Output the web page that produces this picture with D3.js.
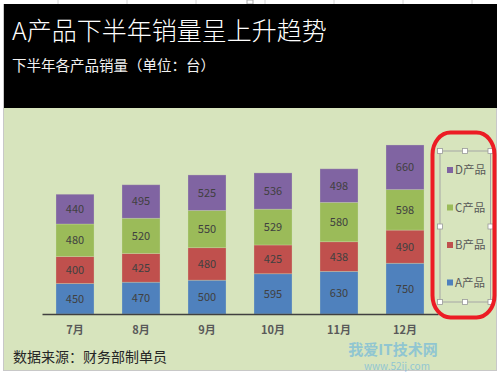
<!DOCTYPE html>
<html>
<head>
<meta charset="utf-8">
<script src="https://d3js.org/d3.v7.min.js"></script>
<style>
  body { margin: 0; background: #fff; }
  text { font-family: "Noto Sans CJK SC", "Noto Sans", sans-serif; }
  .title { font-size: 25px; fill: #fff; font-weight: 300; }
  .subtitle { font-size: 14.5px; fill: #f2f2f2; }
  .inside { font-size: 11px; fill: #404040; }
  .tick text { font-size: 11px; font-weight: bold; fill: #595959; }
  .label { font-size: 11.5px; fill: #595959; }
  .source { font-size: 14px; fill: #262626; }
</style>
</head>
<body>
<script>
  let width = 500, height = 372;
  // chart data
  let months = ['7月', '8月', '9月', '10月', '11月', '12月'];
  let products = ['A产品', 'B产品', 'C产品', 'D产品'];
  let productA = [450, 470, 500, 595, 630, 750];
  let productB = [400, 425, 480, 425, 438, 490];
  let productC = [480, 520, 550, 529, 580, 598];
  let productD = [440, 495, 525, 536, 498, 660];
  let colors = d3.scaleOrdinal().domain(products).range(['#4f81bd', '#c0504d', '#9bbb59', '#8064a2']);

  let rows = months.map((m, i) => ({month: m, 'A产品': productA[i], 'B产品': productB[i], 'C产品': productC[i], 'D产品': productD[i]}));
  let stacked = d3.stack().keys(products)(rows);

  let svg = d3.select('body').append('svg').attr('width', width).attr('height', height);

  // spreadsheet grid peeking out on top
  svg.append('g').selectAll('line').data([58, 127, 196, 265, 334, 403, 472]).enter().append('line')
     .attr('x1', d => d).attr('x2', d => d).attr('y1', 0).attr('y2', 4)
     .attr('stroke', '#d4d4d4');
  svg.append('rect').attr('x', 247).attr('y', 0).attr('width', 6).attr('height', 4)
     .attr('fill', '#fff').attr('stroke', '#aaa');

  // chart area + black header
  svg.append('rect').attr('x', 3.5).attr('y', 4.5).attr('width', 493).attr('height', 366)
     .attr('fill', '#d7e4bd').attr('stroke', '#c8c8c8');
  svg.append('rect').attr('x', 4).attr('y', 4).attr('width', 493).attr('height', 104).attr('fill', '#000');
  svg.append('text').classed('title', true).attr('x', 12).attr('y', 40).text('A产品下半年销量呈上升趋势');
  svg.append('text').classed('subtitle', true).attr('x', 12).attr('y', 71).text('下半年各产品销量（单位：台）');

  let x = d3.scaleBand().domain(months).range([42, 438]).paddingInner(0.424).paddingOuter(0.212);
  let y = d3.scaleLinear().domain([0, 3000]).range([314, 111]);

  let layers = svg.append('g').selectAll('g').data(stacked).enter().append('g')
                  .attr('fill', d => colors(d.key));
  layers.selectAll('rect').data(d => d).enter().append('rect')
        .attr('x', d => x(d.data.month))
        .attr('y', d => y(d[1]))
        .attr('width', x.bandwidth())
        .attr('height', d => y(d[0]) - y(d[1]))
        .attr('stroke', '#d7e4bd').attr('stroke-opacity', 0.35).attr('stroke-width', 0.8);
  layers.selectAll('text').data(d => d).enter().append('text').classed('inside', true)
        .attr('x', d => x(d.data.month) + x.bandwidth() / 2)
        .attr('y', d => (y(d[0]) + y(d[1])) / 2)
        .attr('text-anchor', 'middle').attr('dy', '0.36em')
        .text(d => d[1] - d[0]);

  let xAxis = svg.append('g').attr('transform', 'translate(0,314)')
                 .call(d3.axisBottom(x).tickSize(0).tickPadding(12));
  xAxis.select('.domain').attr('stroke', '#404040').attr('stroke-width', 1.3);

  svg.append('text').classed('source', true).attr('x', 13).attr('y', 362).text('数据来源：财务部制单员');

  // legend with selection frame
  let legendBox = svg.append('g');
  legendBox.append('rect').attr('x', 440).attr('y', 151).attr('width', 50.5).attr('height', 151)
           .attr('fill', 'none').attr('stroke', '#a6a6a6');
  let handles = [[440, 151], [465, 151], [490.5, 151], [440, 226.5], [490.5, 226.5], [440, 302], [465, 302], [490.5, 302]];
  legendBox.selectAll('.handle').data(handles).enter().append('rect').classed('handle', true)
           .attr('x', d => d[0] - 2.5).attr('y', d => d[1] - 2.5).attr('width', 5).attr('height', 5)
           .attr('fill', '#fff').attr('stroke', '#9a9a9a').attr('stroke-width', 0.8);
  let legend = legendBox.selectAll('.legends').data(products.slice().reverse()).enter().append('g')
                        .classed('legends', true)
                        .attr('transform', (d, i) => 'translate(447,' + (170 + i * 37.5) + ')');
  legend.append('rect').attr('y', -3).attr('width', 6).attr('height', 6).attr('fill', d => colors(d));
  legend.append('text').classed('label', true).attr('x', 8).attr('dy', '0.36em').text(d => d);

  // red marker round the legend
  svg.append('rect').attr('x', 432.5).attr('y', 132.5).attr('width', 62).attr('height', 185)
     .attr('rx', 18).attr('ry', 22).attr('fill', 'none').attr('stroke', '#ec1c24').attr('stroke-width', 4);

  // site watermark
  svg.append('text').attr('x', 393).attr('y', 355).attr('text-anchor', 'middle')
     .style('font-size', '15px').style('font-weight', 'bold').attr('fill', '#4ba9e6').attr('opacity', 0.5)
     .text('我爱IT技术网');
  svg.append('text').attr('x', 397).attr('y', 370).attr('text-anchor', 'middle')
     .style('font-size', '10px').attr('fill', '#4ba9e6').attr('opacity', 0.5)
     .text('www.52ij.com');
</script>
</body>
</html>
